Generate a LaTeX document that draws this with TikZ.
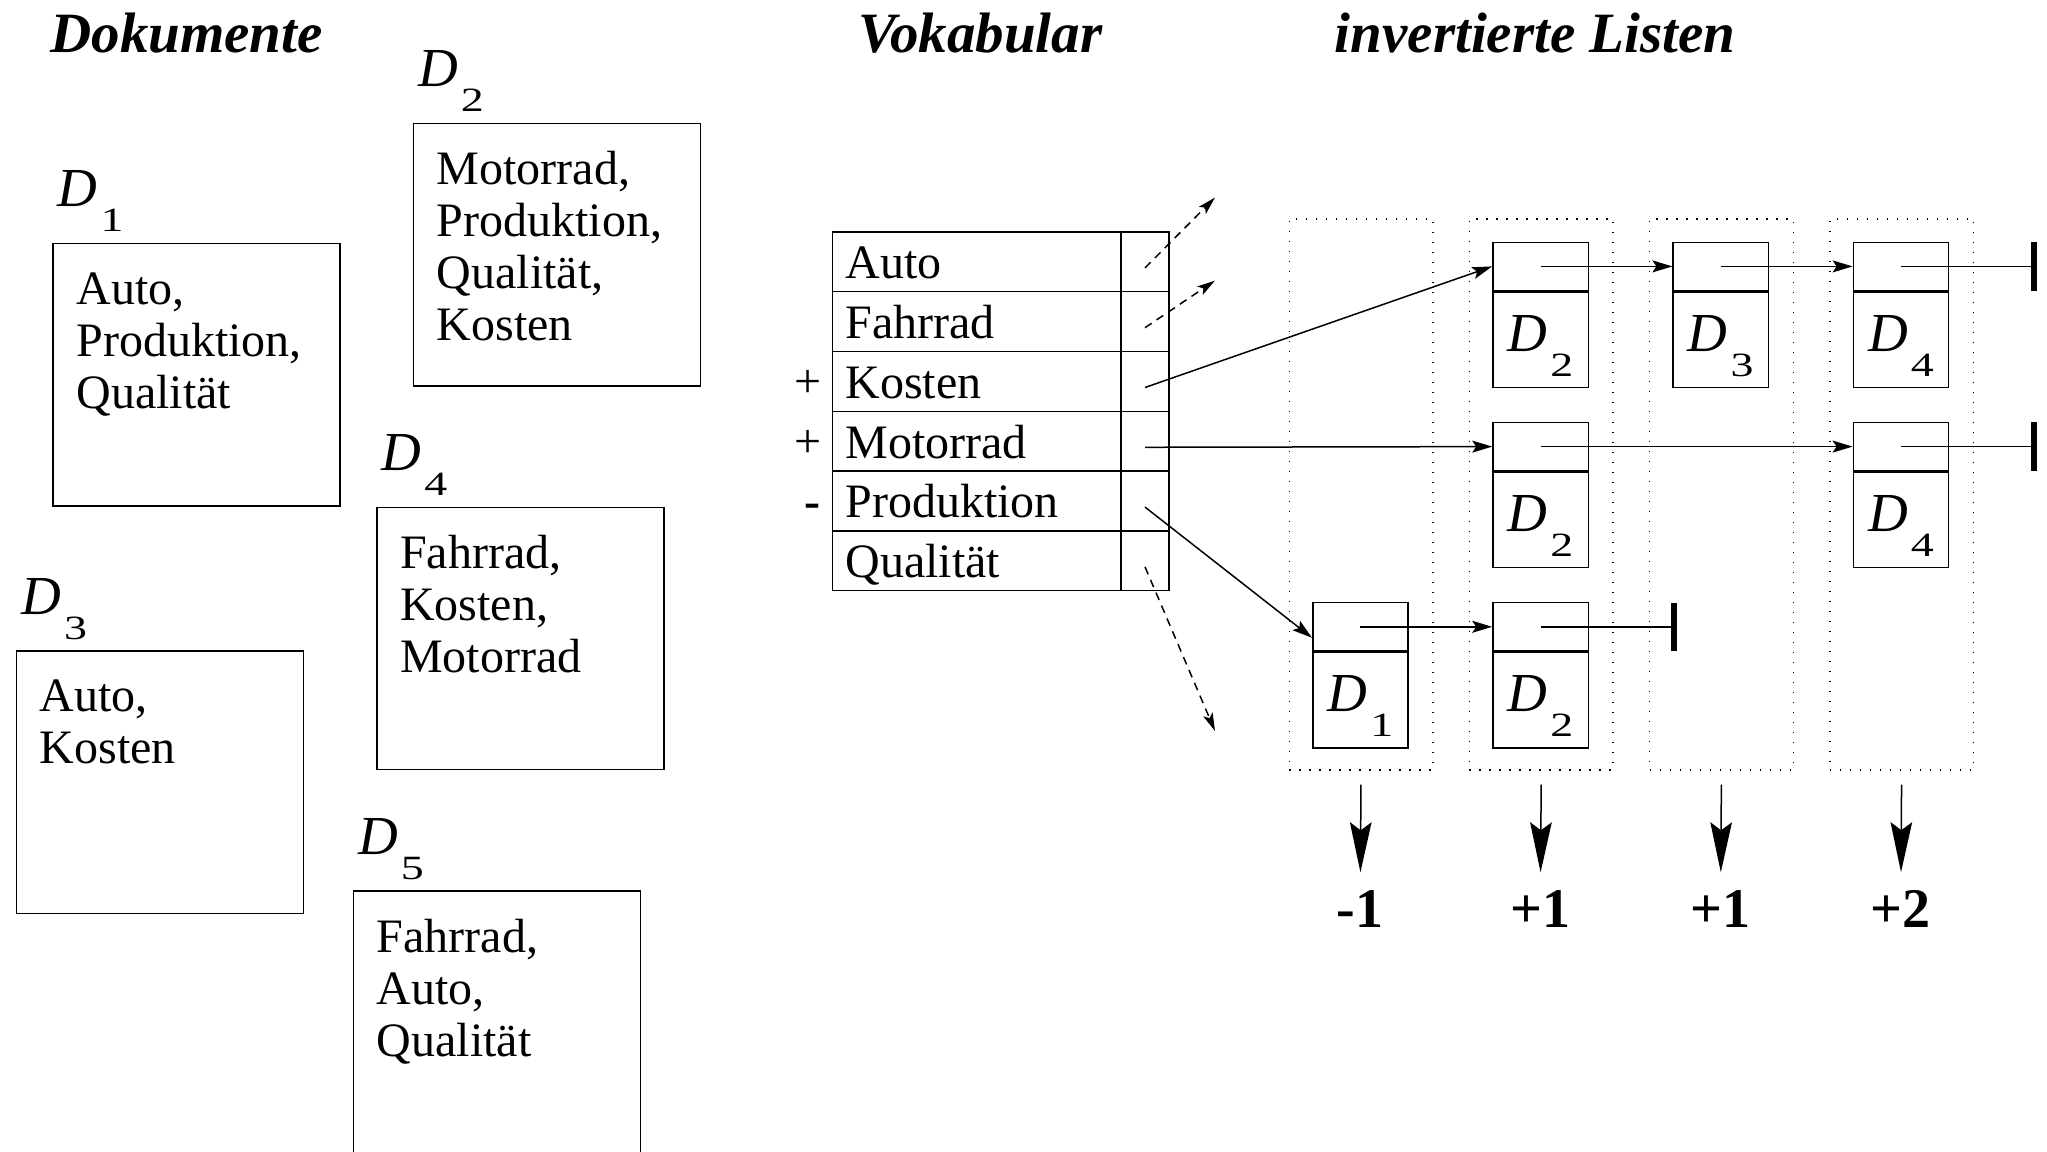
\documentclass[tikz,border=0pt]{standalone}
\usepackage{fontspec}
\setmainfont{Liberation Serif}
\usetikzlibrary{arrows.meta,calc}
\newcommand{\DocD}[1]{{\fontsize{27.5}{27.5}\selectfont\itshape D}\kern1.5pt\raisebox{-12.5pt}{\scalebox{1.35}[1]{\fontsize{17}{17}\selectfont #1}}}
\newcommand{\listcell}[4]{%
  \node[ctop] (#1t) at (#2,#3) {};
  \node[cbot] (#1b) at (#1t.south) {};
  \node[cellD] (#1l) at ($(#1b.north)+(0,60)$) {\DocD{#4}};
  \coordinate (#1p) at (#1t.center);
}
\begin{document}
\begin{tikzpicture}[x=0.5pt, y=-0.5pt, line width=0.75pt,
  heading/.style={font=\fontsize{28.5}{30}\selectfont\bfseries\itshape, anchor=base west, inner sep=0},
  docbox/.style={draw, minimum width=143.6pt, minimum height=131.2pt, anchor=north west, inner sep=0},
  doctext/.style={font=\fontsize{24}{26}\selectfont, align=left, anchor=north west, inner sep=0},
  dlabel/.style={anchor=base west, inner sep=0},
  cellD/.style={anchor=base, inner sep=0},
  word/.style={draw, anchor=north west, inner ysep=0, inner xsep=6.5pt, minimum height=29.9pt, text height=22pt, text depth=5pt, font=\fontsize{24}{26}\selectfont},
  ptr/.style={draw, anchor=north west, minimum width=24.15pt, minimum height=29.9pt, inner sep=0},
  ctop/.style={draw, anchor=north west, minimum width=47.65pt, minimum height=24.15pt, inner sep=0},
  cbot/.style={draw, anchor=north, minimum width=47.65pt, minimum height=47.65pt, inner sep=0},
  listcol/.style={draw, dash pattern=on 0.75pt off 4.25pt, anchor=north west, minimum width=71.8pt, minimum height=275.5pt, inner sep=0},
  sign/.style={font=\fontsize{24}{26}\selectfont, anchor=base, inner sep=0},
  result/.style={font=\fontsize{28}{30}\selectfont\bfseries, anchor=base, inner sep=0},
  ptrline/.style={-{Stealth[length=10pt,width=6pt,inset=2pt]}},
  stopbar/.style={line width=3pt},
  dasharrow/.style={dash pattern=on 4pt off 3pt, -{Stealth[length=9pt,width=5pt,inset=2pt]}},
  bigarrow/.style={-{Stealth[length=25pt,width=10.8pt,inset=4pt]}}
]
\useasboundingbox (0,0) rectangle (2047,1152);
\clip (0,0) rectangle (2047,1152);

% headings
\node[heading] (hdok) at (49.6,52) {Dokumente};
\node[heading] (hvok) at (857.7,52) {Vokabular};
\node[heading] (hinv) at (1334.2,52) {invertierte Listen};

% documents
\node[docbox] (d1) at (52.2,242.8) {};
\node[docbox] (d2) at (412.5,122.7) {};
\node[docbox] (d4) at (376,506.5) {};
\node[docbox] (d3) at (15.7,650.1) {};
\node[docbox] (d5) at (352.5,890.4) {};
\node[doctext] (t1) at ($(d1.north west)+(23.5,24.6)$) {\strut Auto,\\Produktion,\\Qualität};
\node[doctext] (t2) at ($(d2.north west)+(23.5,24.6)$) {\strut Motorrad,\\Produktion,\\Qualität,\\Kosten};
\node[doctext] (t4) at ($(d4.north west)+(23.5,24.6)$) {\strut Fahrrad,\\Kosten,\\Motorrad};
\node[doctext] (t3) at ($(d3.north west)+(23.5,24.6)$) {\strut Auto,\\Kosten};
\node[doctext] (t5) at ($(d5.north west)+(23.5,24.6)$) {\strut Fahrrad,\\Auto,\\Qualität};
\node[dlabel] (l1) at ($(d1.north west)+(5,-36)$) {\DocD{1}};
\node[dlabel] (l2) at ($(d2.north west)+(5,-36)$) {\DocD{2}};
\node[dlabel] (l3) at ($(d3.north west)+(5,-36)$) {\DocD{3}};
\node[dlabel] (l4) at ($(d4.north west)+(5,-36)$) {\DocD{4}};
\node[dlabel] (l5) at ($(d5.north west)+(5,-36)$) {\DocD{5}};

% vocabulary
\foreach \i/\w in {1/Auto,2/Fahrrad,3/Kosten,4/Motorrad,5/Produktion,6/Qualität}{
  \node[word] (w\i) at (831.6,{231.1+(\i-1)*59.8}) {\makebox[131.25pt][l]{\w}};
  \node[ptr] (p\i) at (1120.1,{231.1+(\i-1)*59.8}) {};
  \coordinate (ps\i) at ($(p\i.north)!0.6!(p\i.south)$);
}
\node[sign] (s3) at ($(w3.north west)+(-24,47)$) {+};
\node[sign] (s4) at ($(w4.north west)+(-24,47)$) {+};
\node[sign] (s5) at ($(w5.north west)+(-19,47)$) {\bfseries -};

% list columns
\node[listcol] (col1) at (1288.5,218) {};
\node[listcol] (col2) at (1468.7,218) {};
\node[listcol] (col3) at (1648.9,218) {};
\node[listcol] (col4) at (1829.1,218) {};

% list cells
\listcell{a2}{1492.2}{241.5}{2}
\listcell{a3}{1672.4}{241.5}{3}
\listcell{a4}{1852.6}{241.5}{4}
\listcell{b2}{1492.2}{421.7}{2}
\listcell{b4}{1852.6}{421.7}{4}
\listcell{c1}{1312.0}{601.9}{1}
\listcell{c2}{1492.2}{601.9}{2}

% list pointers
\draw[ptrline] (a2p) -- (a3t.west);
\draw[ptrline] (a3p) -- (a4t.west);
\coordinate (e1) at ($(a4t.east)+(85,0)$);
\draw (a4p) -- (e1);
\draw[stopbar] ($(e1)+(0,-24.15)$) -- ($(e1)+(0,24.15)$);
\draw[ptrline] (b2p) -- (b4t.west);
\coordinate (e2) at ($(b4t.east)+(85,0)$);
\draw (b4p) -- (e2);
\draw[stopbar] ($(e2)+(0,-24.15)$) -- ($(e2)+(0,24.15)$);
\draw[ptrline] (c1p) -- (c2t.west);
\coordinate (e3) at ($(c2t.east)+(85,0)$);
\draw (c2p) -- (e3);
\draw[stopbar] ($(e3)+(0,-24.15)$) -- ($(e3)+(0,24.15)$);

% vocabulary pointers
\draw[ptrline] (ps3) -- (a2t.west);
\draw[ptrline] (ps4) -- (b2t.west);
\coordinate (c1in) at ($(c1t.north west)!0.72!(c1t.south west)$);
\draw[ptrline] (ps5) -- (c1in);
\coordinate (q1) at (1215,197.6);
\coordinate (q2) at (1215,280.6);
\coordinate (q6) at (1215,731);
\draw[dasharrow] (ps1) -- (q1);
\draw[dasharrow] (ps2) -- (q2);
\draw[dasharrow] (ps6) -- (q6);

% results
\node[result] (r1) at (1360.3,927) {-1};
\node[result] (r2) at (1540.5,927) {+1};
\node[result] (r3) at (1720.7,927) {+1};
\node[result] (r4) at (1900.9,927) {+2};
\foreach \i in {1,...,4}{
  \draw[bigarrow, shorten <=7pt, shorten >=8.5pt] (col\i.south) -- (r\i.north);
}
\end{tikzpicture}
\end{document}
